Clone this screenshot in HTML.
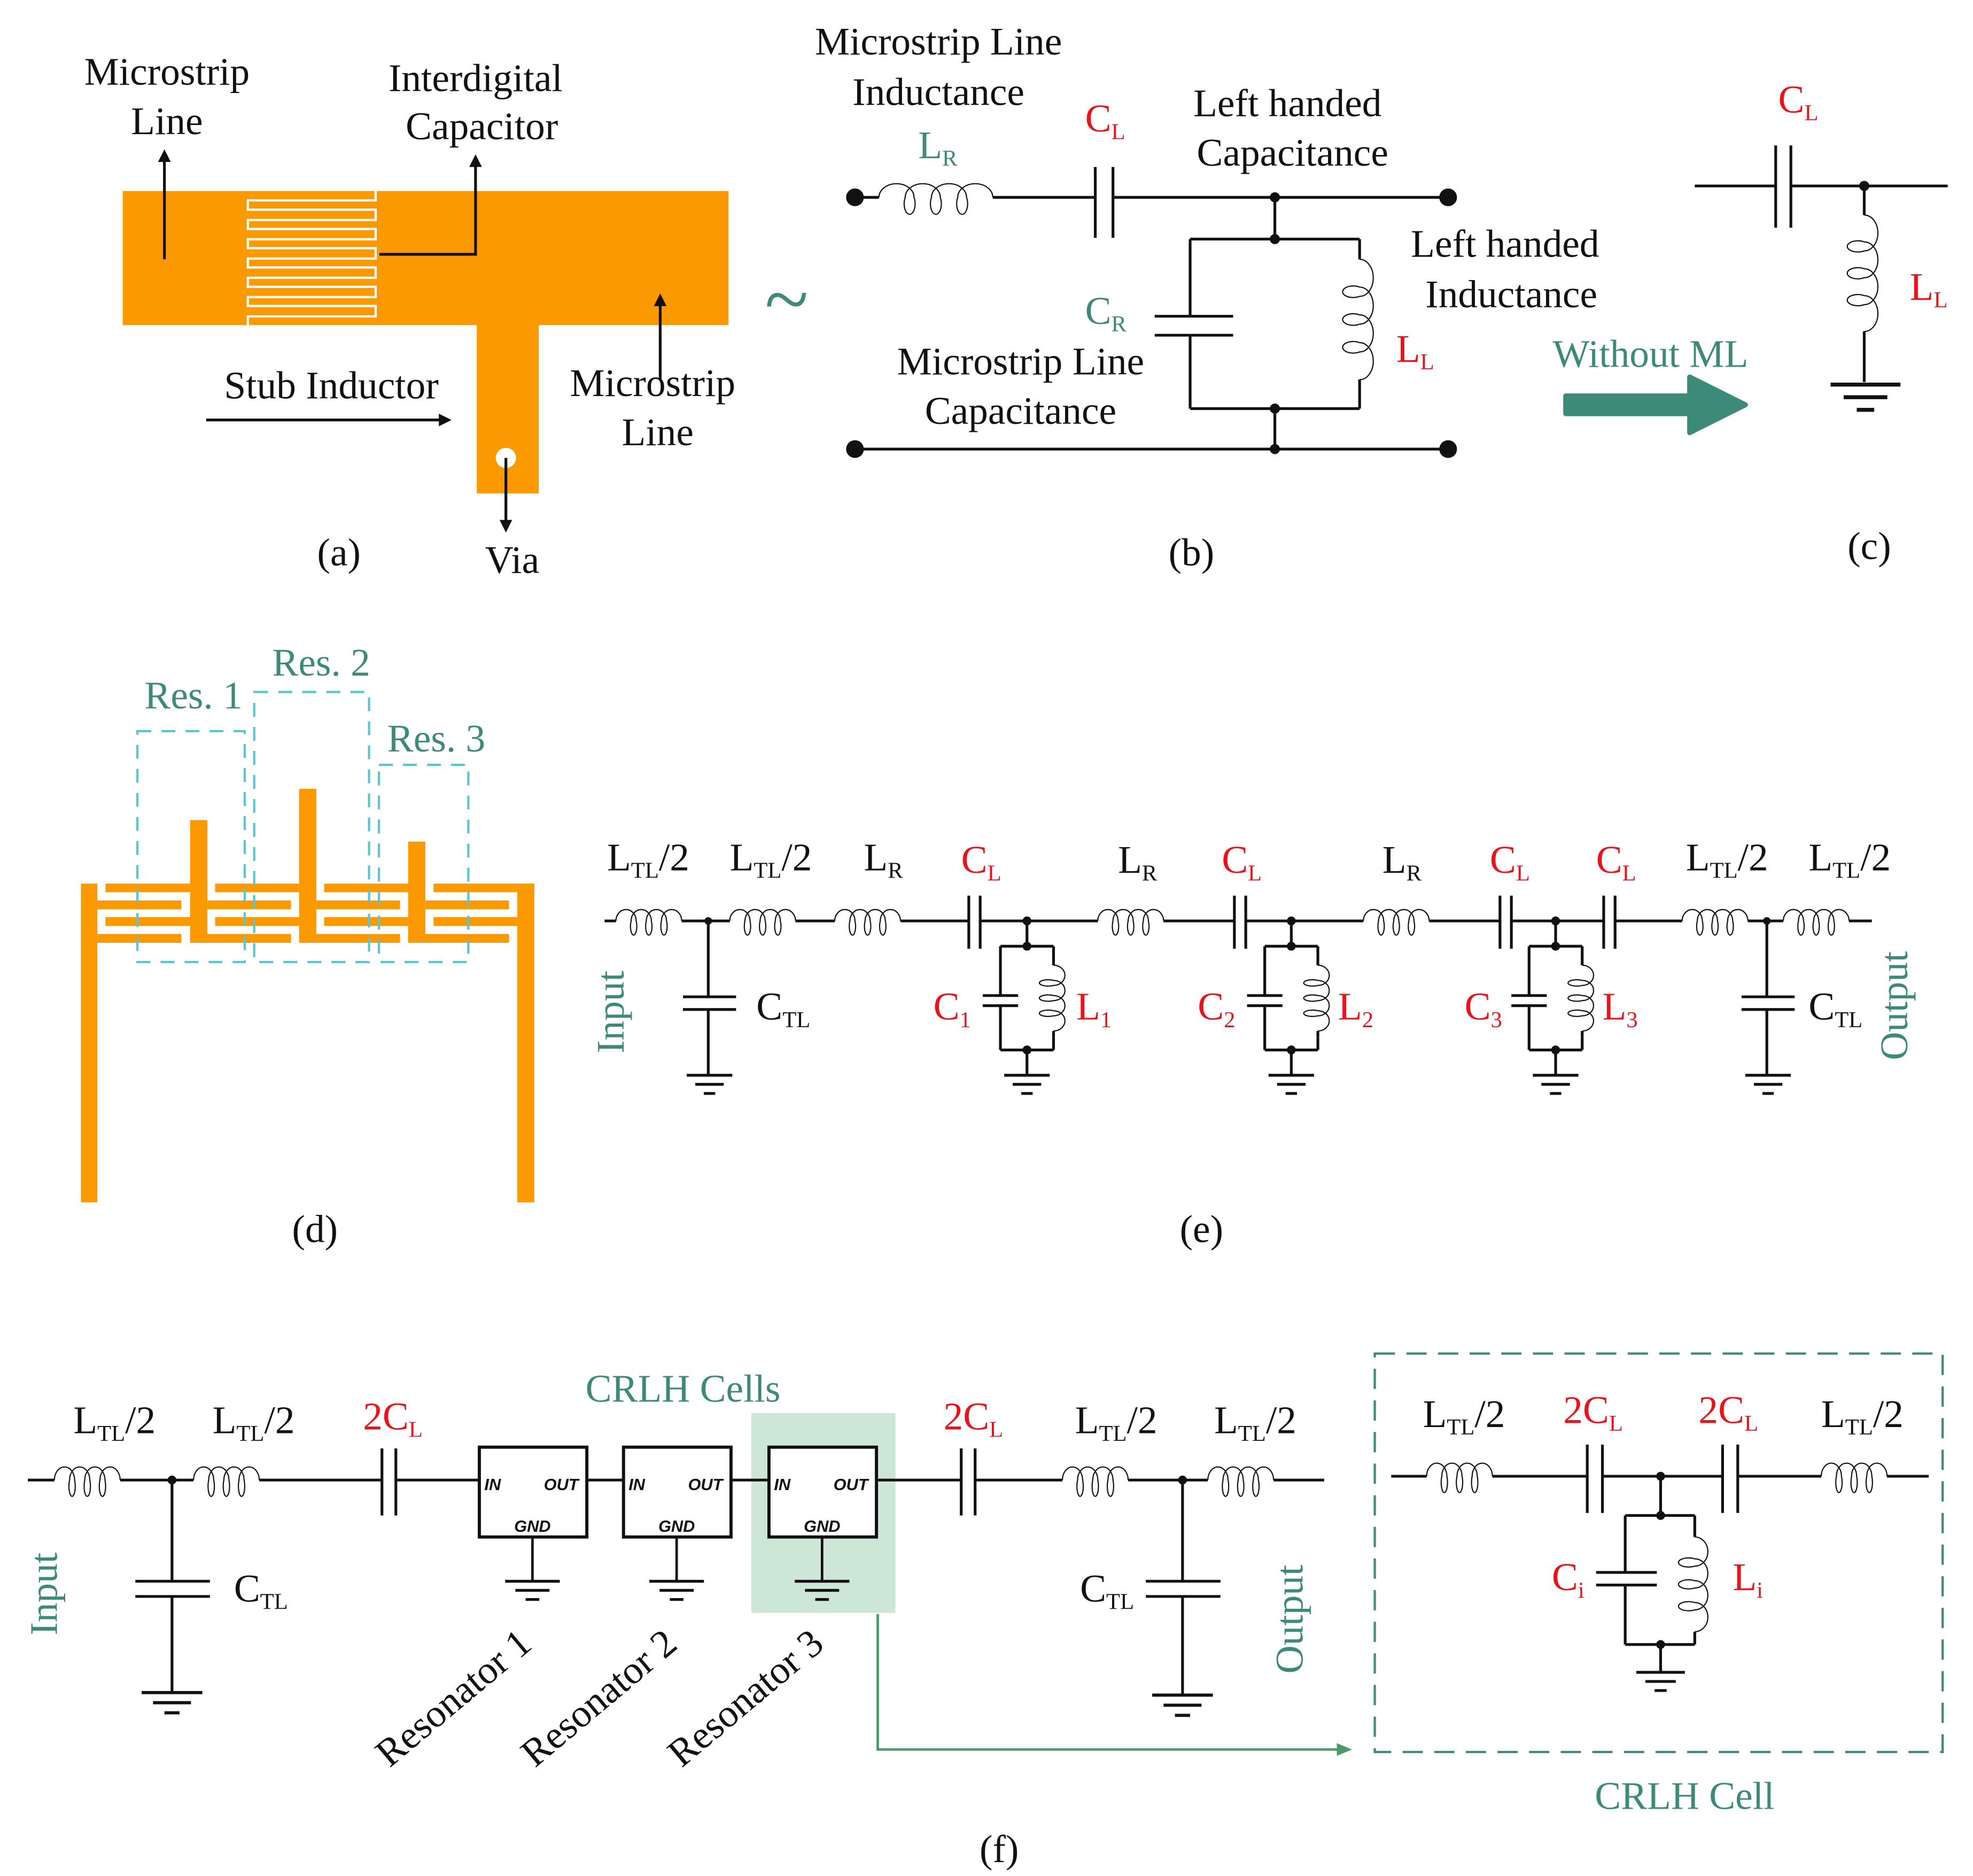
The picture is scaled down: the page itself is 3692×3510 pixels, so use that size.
<!DOCTYPE html>
<html><head><meta charset="utf-8"><style>
html,body{margin:0;padding:0;background:#fff;}
svg{display:block;}
text{font-family:"Liberation Serif",serif;font-size:31px;fill:#111;}
.t{fill:#3d8a78;}
.r{fill:#e8141c;}
.s{font-size:18px;}
.w{stroke:#111;stroke-width:2.2;fill:none;}
.box{font-family:"Liberation Sans",sans-serif;font-size:13px;font-style:italic;font-weight:bold;}
</style></head><body>
<svg width="3692" height="3510" viewBox="0 0 1560 1483" preserveAspectRatio="none" xmlns="http://www.w3.org/2000/svg">
<defs>
<path id="coil" d="M0 0 a8 9 0 1 1 16 0 a2.5 7 0 1 1 -4 0 a8 9 0 1 1 16 0 a2.5 7 0 1 1 -4 0 a8 9 0 1 1 16 0 a2.5 7 0 1 1 -4 0 a8 9 0 1 1 16 0" fill="none" stroke="#111" stroke-width="2.2" vector-effect="non-scaling-stroke"/>
<g id="gnd"><path d="M-24 0h48M-15 8h30M-6 16h12" stroke="#111" stroke-width="2.5"/></g>
</defs>
<rect width="1560" height="1483" fill="#fff"/>

<!-- (a) -->
<rect x="97" y="151" width="479" height="106" fill="#fb9a00"/>
<rect x="377" y="256" width="49" height="134" fill="#fb9a00"/>
<circle cx="400" cy="362" r="8" fill="#fff"/>
<path d="M297 151V158.4H196V165.8H297V173.9H196V181H297V189.1H196V196.2H297V204.4H196V211.4H297V219.6H196V226.7H297V234.8H196V241.9H297V250.1H196V257" stroke="#fff" stroke-width="1.8" fill="none"/>
<g class="w" stroke-width="1.6">
<path d="M130 205V125"/><path d="M300 201H376V130"/><path d="M163 332H350"/><path d="M522 300V240"/><path d="M400 362V414"/>
</g>
<path d="M130 118l-5 10h10z M376 122l-5 10h10z M357 332l-10 -5v10z M522 232l-5 10h10z M400 421l-5 -10h10z" fill="#111"/>
<text x="132" y="67" text-anchor="middle">Microstrip</text>
<text x="132" y="106" text-anchor="middle">Line</text>
<text x="376" y="72" text-anchor="middle">Interdigital</text>
<text x="381" y="110" text-anchor="middle">Capacitor</text>
<text x="262" y="315" text-anchor="middle">Stub Inductor</text>
<text x="516" y="313" text-anchor="middle">Microstrip</text>
<text x="520" y="352" text-anchor="middle">Line</text>
<text x="405" y="453" text-anchor="middle">Via</text>
<text x="268" y="447" text-anchor="middle">(a)</text>
<text x="622" y="258" text-anchor="middle" class="t" style="font-size:64px">~</text>

<!-- (b) -->
<g class="w">
<path d="M676 156H695M785 156H866M880 156H1145"/>
<path d="M866 132V188M880 132V188"/>
<path d="M1008 156V189M941 189H1075M941 189V250M941 265V323M913 250H975M913 265H975M1075 189V205M1075 300V323M941 323H1075M1008 323V355M676 355H1145"/>
</g>
<use href="#coil" transform="translate(695 156) scale(1.73 1.2)"/>
<use href="#coil" transform="translate(1075 205) rotate(90) scale(1.83 1.2)"/>
<g fill="#111"><circle cx="676" cy="156" r="7"/><circle cx="1145" cy="156" r="7"/><circle cx="676" cy="355" r="7"/><circle cx="1145" cy="355" r="7"/>
<circle cx="1008" cy="156" r="4"/><circle cx="1008" cy="189" r="4"/><circle cx="1008" cy="323" r="4"/><circle cx="1008" cy="355" r="4"/></g>
<text x="742" y="43" text-anchor="middle">Microstrip Line</text>
<text x="742" y="83" text-anchor="middle">Inductance</text>
<text x="726" y="125" class="t">L<tspan class="s" dy="6">R</tspan></text>
<text x="858" y="104" class="r">C<tspan class="s" dy="6">L</tspan></text>
<text x="1018" y="92" text-anchor="middle">Left handed</text>
<text x="1022" y="131" text-anchor="middle">Capacitance</text>
<text x="1190" y="203" text-anchor="middle">Left handed</text>
<text x="1195" y="243" text-anchor="middle">Inductance</text>
<text x="1104" y="286" class="r">L<tspan class="s" dy="6">L</tspan></text>
<text x="858" y="256" class="t">C<tspan class="s" dy="6">R</tspan></text>
<text x="807" y="296" text-anchor="middle">Microstrip Line</text>
<text x="807" y="335" text-anchor="middle">Capacitance</text>
<text x="942" y="447" text-anchor="middle">(b)</text>

<!-- (c) -->
<g class="w"><path d="M1340 147H1404M1416 147H1540M1404 115V180M1416 115V180M1474 147V170M1474 262V302"/></g>
<use href="#coil" transform="translate(1474 170) rotate(90) scale(1.77 1.2)"/>
<circle cx="1474" cy="147" r="4" fill="#111"/>
<use href="#gnd" transform="translate(1475 304) scale(1.15 1.25)"/>
<text x="1406" y="89" class="r">C<tspan class="s" dy="6">L</tspan></text>
<text x="1510" y="237" class="r">L<tspan class="s" dy="6">L</tspan></text>
<text x="1305" y="290" text-anchor="middle" class="t">Without ML</text>
<path d="M1238 313H1336V298L1380 320L1336 342V327H1238Z" fill="#3d8a78" stroke="#3d8a78" stroke-linejoin="round" stroke-width="4"/>
<text x="1478" y="442" text-anchor="middle">(c)</text>

<!-- (d) -->
<g fill="#fb9a00">
<rect x="64" y="698.5" width="13" height="252"/>
<rect x="409" y="698.5" width="13.5" height="252"/>
<rect x="150.3" y="648.3" width="13.7" height="97"/>
<rect x="236.5" y="623.6" width="13.6" height="121.7"/>
<rect x="322.7" y="665.3" width="13.6" height="80"/>
<rect x="83.4" y="698.5" width="80.6" height="6.8"/>
<rect x="170.1" y="698.5" width="80" height="6.8"/>
<rect x="256.3" y="698.5" width="80" height="6.8"/>
<rect x="342.8" y="698.5" width="79.7" height="6.8"/>
<rect x="77" y="711.8" width="66.4" height="7"/>
<rect x="164" y="711.8" width="66.1" height="7"/>
<rect x="250.1" y="711.8" width="66.2" height="7"/>
<rect x="336.3" y="711.8" width="66.2" height="7"/>
<rect x="83.4" y="725" width="67" height="7"/>
<rect x="170.1" y="725" width="66.4" height="7"/>
<rect x="256.3" y="725" width="66.4" height="7"/>
<rect x="342.8" y="725" width="66.2" height="7"/>
<rect x="77" y="738.3" width="66.4" height="7"/>
<rect x="150.3" y="738.3" width="79.8" height="7"/>
<rect x="236.5" y="738.3" width="79.8" height="7"/>
<rect x="322.7" y="738.3" width="79.8" height="7"/>
</g>
<g fill="none" stroke="#5bc5d0" stroke-width="1.8" stroke-dasharray="11 8">
<rect x="108.6" y="578" width="84.9" height="182.5"/>
<rect x="201" y="547" width="90.8" height="213.5"/>
<rect x="299.6" y="604.6" width="70.7" height="155.9"/>
</g>
<text x="153" y="560" text-anchor="middle" class="t">Res. 1</text>
<text x="254" y="534" text-anchor="middle" class="t">Res. 2</text>
<text x="345" y="594" text-anchor="middle" class="t">Res. 3</text>
<text x="249" y="982" text-anchor="middle">(d)</text>

<!-- (e) -->
<g class="w">
<path d="M478 728H487M539 728H577M629 728H660M712 728H766M775 728H868M920 728H976M985 728H1078M1130 728H1186M1195 728H1268M1277 728H1330M1382 728H1410M1462 728H1480"/>
<path d="M766 708V750M775 708V750M976 708V750M985 708V750M1186 708V750M1195 708V750M1268 708V750M1277 708V750"/>
<path d="M560 728V788M560 798V850M540 788H582M540 798H582"/>
<path d="M1397 728V788M1397 798V850M1377 788H1419M1377 798H1419"/>
</g>
<use href="#coil" transform="translate(487 728)"/>
<use href="#coil" transform="translate(577 728)"/>
<use href="#coil" transform="translate(660 728)"/>
<use href="#coil" transform="translate(868 728)"/>
<use href="#coil" transform="translate(1078 728)"/>
<use href="#coil" transform="translate(1330 728)"/>
<use href="#coil" transform="translate(1410 728)"/>
<use href="#gnd" transform="translate(561 850) scale(0.75 0.9)"/>
<use href="#gnd" transform="translate(1398 850) scale(0.75 0.9)"/>
<circle cx="560" cy="728" r="3" fill="#111"/><circle cx="1397" cy="728" r="3" fill="#111"/>
<g id="res1">
<g class="w"><path d="M812 728V748M791 748H833M791 748V787M791 795V830M777 787H805M777 795H805M833 748V758M833 820V830M791 830H833M812 830V850"/></g>
<use href="#coil" transform="translate(833 763) rotate(90)"/>
<path d="M833 758V763M833 815V820" stroke="#111" stroke-width="2.2"/>
<circle cx="812" cy="728" r="3.5" fill="#111"/><circle cx="812" cy="748" r="3.5" fill="#111"/><circle cx="812" cy="830" r="3.5" fill="#111"/>
<use href="#gnd" transform="translate(812 850) scale(0.75 0.9)"/>
</g>
<use href="#res1" transform="translate(209 0)"/>
<use href="#res1" transform="translate(418 0)"/>
<text x="480" y="688">L<tspan class="s" dy="6">TL</tspan><tspan dy="-6">/2</tspan></text>
<text x="577" y="688">L<tspan class="s" dy="6">TL</tspan><tspan dy="-6">/2</tspan></text>
<text x="683" y="688">L<tspan class="s" dy="6">R</tspan></text>
<text x="760" y="690" class="r">C<tspan class="s" dy="6">L</tspan></text>
<text x="884" y="690">L<tspan class="s" dy="6">R</tspan></text>
<text x="966" y="690" class="r">C<tspan class="s" dy="6">L</tspan></text>
<text x="1093" y="690">L<tspan class="s" dy="6">R</tspan></text>
<text x="1178" y="690" class="r">C<tspan class="s" dy="6">L</tspan></text>
<text x="1262" y="690" class="r">C<tspan class="s" dy="6">L</tspan></text>
<text x="1333" y="688">L<tspan class="s" dy="6">TL</tspan><tspan dy="-6">/2</tspan></text>
<text x="1430" y="688">L<tspan class="s" dy="6">TL</tspan><tspan dy="-6">/2</tspan></text>
<text x="598" y="806">C<tspan class="s" dy="6">TL</tspan></text>
<text x="1430" y="806">C<tspan class="s" dy="6">TL</tspan></text>
<text x="738" y="806" class="r">C<tspan class="s" dy="6">1</tspan></text>
<text x="851" y="806" class="r">L<tspan class="s" dy="6">1</tspan></text>
<text x="947" y="806" class="r">C<tspan class="s" dy="6">2</tspan></text>
<text x="1058" y="806" class="r">L<tspan class="s" dy="6">2</tspan></text>
<text x="1158" y="806" class="r">C<tspan class="s" dy="6">3</tspan></text>
<text x="1267" y="806" class="r">L<tspan class="s" dy="6">3</tspan></text>
<text transform="translate(493 800) rotate(-90)" text-anchor="middle" class="t">Input</text>
<text transform="translate(1508 795) rotate(-90)" text-anchor="middle" class="t">Output</text>
<text x="950" y="982" text-anchor="middle">(e)</text>

<!-- (f) -->
<rect x="594" y="1117" width="114" height="158" fill="#cce7d6"/>
<g class="w">
<path d="M22 1170H43M95 1170H153M205 1170H302M313 1170H378M464 1170H493M579 1170H607M693 1170H760M771 1170H840M892 1170H955M1007 1170H1047"/>
<path d="M302 1145V1198M313 1145V1198M760 1145V1198M771 1145V1198"/>
<path d="M136 1170V1250M136 1262V1338M107 1250H166M107 1262H166"/>
<path d="M935 1170V1250M935 1262V1340M906 1250H965M906 1262H965"/>
</g>
<use href="#coil" transform="translate(43 1170) scale(1 1.15)"/>
<use href="#coil" transform="translate(153 1170) scale(1 1.15)"/>
<use href="#coil" transform="translate(840 1170) scale(1 1.15)"/>
<use href="#coil" transform="translate(955 1170) scale(1 1.15)"/>
<circle cx="136" cy="1170" r="3.5" fill="#111"/><circle cx="935" cy="1170" r="3.5" fill="#111"/>
<use href="#gnd" transform="translate(136 1338)"/>
<use href="#gnd" transform="translate(935 1340)"/>
<g>
<rect x="379" y="1144" width="85" height="71" fill="#fff" stroke="#111" stroke-width="2.5"/>
<text x="383" y="1178" class="box">IN</text>
<text x="430" y="1178" class="box">OUT</text>
<text x="421" y="1211" text-anchor="middle" class="box">GND</text>
<path d="M421 1215V1250" stroke="#111" stroke-width="2"/>
<use href="#gnd" transform="translate(421 1250) scale(0.9 0.9)"/>
</g>
<g transform="translate(114 0)"><rect x="379" y="1144" width="85" height="71" fill="#fff" stroke="#111" stroke-width="2.5"/>
<text x="383" y="1178" class="box">IN</text><text x="430" y="1178" class="box">OUT</text><text x="421" y="1211" text-anchor="middle" class="box">GND</text>
<path d="M421 1215V1250" stroke="#111" stroke-width="2"/><use href="#gnd" transform="translate(421 1250) scale(0.9 0.9)"/></g>
<g transform="translate(229 0)"><rect x="379" y="1144" width="85" height="71" fill="#fff" stroke="#111" stroke-width="2.5"/>
<text x="383" y="1178" class="box">IN</text><text x="430" y="1178" class="box">OUT</text><text x="421" y="1211" text-anchor="middle" class="box">GND</text>
<path d="M421 1215V1250" stroke="#111" stroke-width="2"/><use href="#gnd" transform="translate(421 1250) scale(0.9 0.9)"/></g>
<text x="58" y="1133">L<tspan class="s" dy="6">TL</tspan><tspan dy="-6">/2</tspan></text>
<text x="168" y="1133">L<tspan class="s" dy="6">TL</tspan><tspan dy="-6">/2</tspan></text>
<text x="287" y="1130" class="r">2C<tspan class="s" dy="6">L</tspan></text>
<text x="746" y="1130" class="r">2C<tspan class="s" dy="6">L</tspan></text>
<text x="850" y="1133">L<tspan class="s" dy="6">TL</tspan><tspan dy="-6">/2</tspan></text>
<text x="960" y="1133">L<tspan class="s" dy="6">TL</tspan><tspan dy="-6">/2</tspan></text>
<text x="185" y="1266">C<tspan class="s" dy="6">TL</tspan></text>
<text x="854" y="1266">C<tspan class="s" dy="6">TL</tspan></text>
<text x="540" y="1108" text-anchor="middle" class="t">CRLH Cells</text>
<text transform="translate(45 1260) rotate(-90)" text-anchor="middle" class="t">Input</text>
<text transform="translate(1030 1280) rotate(-90)" text-anchor="middle" class="t">Output</text>
<text transform="translate(365 1350) rotate(-40)" text-anchor="middle">Resonator 1</text>
<text transform="translate(480 1350) rotate(-40)" text-anchor="middle">Resonator 2</text>
<text transform="translate(596 1350) rotate(-40)" text-anchor="middle">Resonator 3</text>
<path d="M694 1276V1383H1058" stroke="#4a9a6a" stroke-width="2" fill="none"/>
<path d="M1069 1383l-12 -5v10z" fill="#4a9a6a"/>
<rect x="1087" y="1070" width="449" height="315" fill="none" stroke="#3d8a78" stroke-width="1.8" stroke-dasharray="16 9"/>
<text x="1332" y="1430" text-anchor="middle" class="t">CRLH Cell</text>
<g class="w">
<path d="M1100 1167H1128M1180 1167H1255M1267 1167H1362M1374 1167H1440M1492 1167H1525M1255 1142V1196M1267 1142V1196M1362 1142V1196M1374 1142V1196"/>
<path d="M1313 1167V1198M1285 1198H1340M1285 1198V1243M1285 1253V1300M1262 1243H1310M1262 1253H1310M1340 1198V1215M1340 1290V1300M1285 1300H1340M1313 1300V1322"/>
</g>
<use href="#coil" transform="translate(1128 1167) scale(1 1.15)"/>
<use href="#coil" transform="translate(1440 1167) scale(1 1.15)"/>
<use href="#coil" transform="translate(1340 1215) rotate(90) scale(1.44 1.15)"/>
<circle cx="1313" cy="1167" r="3.5" fill="#111"/><circle cx="1313" cy="1198" r="3.5" fill="#111"/><circle cx="1313" cy="1300" r="3.5" fill="#111"/>
<use href="#gnd" transform="translate(1313 1322) scale(0.8 0.9)"/>
<text x="1125" y="1128">L<tspan class="s" dy="6">TL</tspan><tspan dy="-6">/2</tspan></text>
<text x="1236" y="1125" class="r">2C<tspan class="s" dy="6">L</tspan></text>
<text x="1343" y="1125" class="r">2C<tspan class="s" dy="6">L</tspan></text>
<text x="1440" y="1128">L<tspan class="s" dy="6">TL</tspan><tspan dy="-6">/2</tspan></text>
<text x="1227" y="1257" class="r">C<tspan class="s" dy="6">i</tspan></text>
<text x="1370" y="1257" class="r">L<tspan class="s" dy="6">i</tspan></text>
<text x="790" y="1472" text-anchor="middle">(f)</text>
</svg>
</body></html>
